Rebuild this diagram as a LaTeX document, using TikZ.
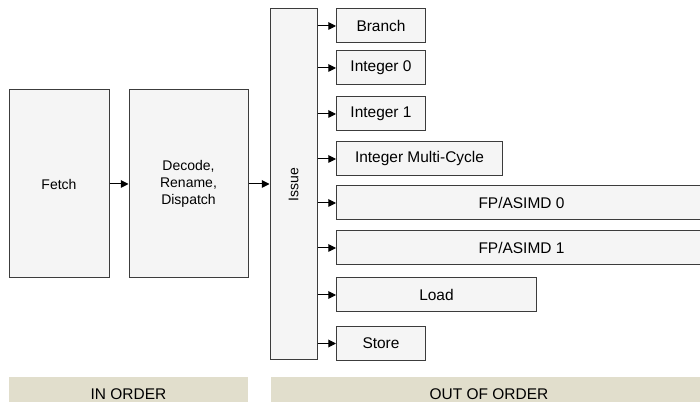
\documentclass[tikz,border=0pt]{standalone}
\usepackage{fontspec}
\setmainfont{Liberation Sans}
\usetikzlibrary{arrows.meta}
\definecolor{boxfill}{HTML}{F5F5F5}
\definecolor{boxline}{HTML}{3C3C3C}
\definecolor{bandfill}{HTML}{E1DECC}

\begin{document}
\begin{tikzpicture}[x=0.75pt, y=-0.75pt,
  stage/.style = {shape=rectangle, draw=boxline, line width=0.75pt, fill=boxfill, align=center, inner sep=0pt, font=\fontsize{10.5}{12.75}\selectfont},
  unit/.style = {stage, anchor=west, minimum height=25.5pt, font=\fontsize{11.6}{14}\selectfont},
  band/.style = {shape=rectangle, fill=bandfill, inner sep=0pt, minimum height=28.5pt},
  bandtext/.style = {inner sep=0pt, font=\fontsize{11.6}{14}\selectfont},
  feed/.style = {-{Triangle[length=5.8pt, width=5.8pt]}, line width=0.75pt, draw=black}]
\clip (0,0) rectangle (700,402);
\useasboundingbox (0,0) rectangle (700,402);

\node[stage, minimum width=75pt, minimum height=141pt] (fetch) at (59,184) {Fetch};
\node[stage, minimum width=89.25pt, minimum height=141pt] (decode) at (188.5,184) {Decode,\\Rename,\\Dispatch};
\node[stage, minimum width=35.25pt, minimum height=263.25pt] (issue) at (293.5,184.5) {};
\node[rotate=90, font=\fontsize{10.5}{12.75}\selectfont] (issuetext) at (issue.center) {Issue};

\node[unit, minimum width=66.75pt] (branch) at (336,26) {Branch};
\node[unit, minimum width=66.75pt] (int0) at (336,68) {Integer 0};
\node[unit, minimum width=66.75pt] (int1) at (336,114) {Integer 1};
\node[unit, minimum width=124.5pt] (intmc) at (336,159) {Integer Multi-Cycle};
\node[unit, minimum width=277.5pt] (fp0) at (336,203) {FP/ASIMD 0};
\node[unit, minimum width=277.5pt] (fp1) at (336,248) {FP/ASIMD 1};
\node[unit, minimum width=150pt] (load) at (336,295) {Load};
\node[unit, minimum width=66.75pt] (store) at (336,343.5) {Store};

\node[band, minimum width=179.25pt] (inorder) at (128.5,396) {};
\node[band, minimum width=327pt] (outorder) at (489,396) {};
\node[bandtext] (inordertext) at ([yshift=1.5pt]inorder.center) {IN ORDER};
\node[bandtext] (outordertext) at ([yshift=1.5pt]outorder.center) {OUT OF ORDER};

\draw[feed] (fetch) -- (decode);
\draw[feed] (decode.east) -- (decode.east -| issue.west);
\foreach \u in {branch, int0, int1, intmc, fp0, fp1, load, store}
  \draw[feed] (\u.west -| issue.east) -- (\u.west);
\end{tikzpicture}
\end{document}
